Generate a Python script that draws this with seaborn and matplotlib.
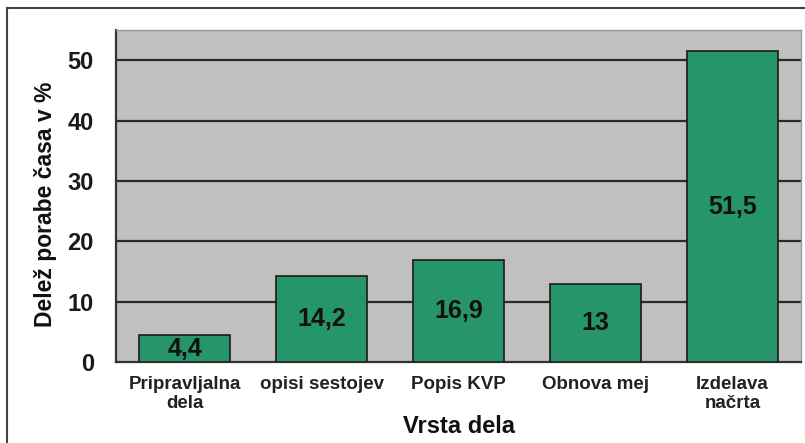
import matplotlib
matplotlib.use("Agg")
import matplotlib.pyplot as plt
import seaborn as sns
import pandas as pd
from matplotlib.patches import Rectangle

categories = ["Pripravljalna\ndela", "opisi sestojev", "Popis KVP", "Obnova mej", "Izdelava\nnačrta"]
values = [4.4, 14.2, 16.9, 13, 51.5]
value_labels = ["4,4", "14,2", "16,9", "13", "51,5"]
yticks = [0, 10, 20, 30, 40, 50]

sns.set_theme(style="white")
plt.rcParams["font.family"] = ["Liberation Sans", "DejaVu Sans"]
plt.rcParams["font.weight"] = "bold"

df = pd.DataFrame({"cat": categories, "val": values})

fig = plt.figure(figsize=(8.05, 4.43), dpi=100)
ax = fig.add_axes([116/805, 1-362/443, (801-116)/805, (362-30)/443])
ax.set_facecolor("#C0C0C0")

sns.barplot(data=df, x="cat", y="val", color="#26966A", saturation=1,
            width=0.67, edgecolor="#1a1a1a", linewidth=1.2, ax=ax, zorder=3)

ax.set_ylim(0, 55)
ax.set_xlim(-0.5, 4.5)
ax.set_yticks(yticks)
ax.set_yticklabels([str(t) for t in yticks], fontsize=17, fontweight="bold", color="#1a1a1a")
for t in yticks[1:]:
    ax.axhline(t, color="#2a2a2a", linewidth=1.6, zorder=1)

ax.set_xticks(range(len(categories)))
ax.set_xticklabels(categories, fontsize=13.5, fontweight="bold", color="#222222", linespacing=1.2)
ax.tick_params(axis="x", which="major", length=0, pad=10)
ax.set_xticks([i - 0.5 for i in range(len(categories) + 1)], minor=True)
ax.tick_params(axis="x", which="minor", length=5, width=1.2, color="#333333", direction="out")
ax.tick_params(axis="y", length=7, width=1.5, color="#333333", direction="out", pad=9)

for s in ["left", "bottom"]:
    ax.spines[s].set_color("#333333")
    ax.spines[s].set_linewidth(1.6)
for s in ["top", "right"]:
    ax.spines[s].set_color("#999999")
    ax.spines[s].set_linewidth(1.0)

ax.bar_label(ax.containers[0], labels=value_labels, label_type="center",
             fontsize=18, fontweight="bold", color="#111111")

ax.set_xlabel("Vrsta dela", fontsize=17, fontweight="bold", color="#111111", labelpad=2)
ax.set_ylabel("Delež porabe časa v %", fontsize=16.5, fontweight="bold", color="#111111")
ax.yaxis.set_label_coords(-0.086, 0.475)

# outer frame
fig.patches.append(Rectangle((7/805, -0.1), 1.2, 1 - 8/443 + 0.1, transform=fig.transFigure,
                             fill=False, edgecolor="#444444", linewidth=1.5))

fig.savefig("out.png", dpi=100)
